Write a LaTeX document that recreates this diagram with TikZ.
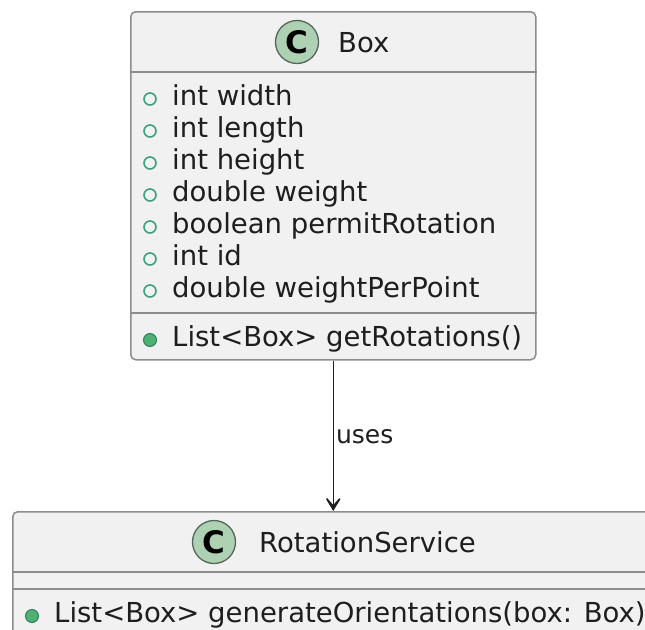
\documentclass[tikz,border=0pt]{standalone}
\usepackage{fontspec}
\setmainfont{DejaVu Sans}
\usetikzlibrary{arrows.meta, positioning, calc}
\definecolor{classfill}{HTML}{F1F1F1}
\definecolor{classline}{HTML}{8C8C8C}
\definecolor{spotfill}{HTML}{ADD1B2}
\definecolor{spotline}{HTML}{55665A}
\definecolor{fieldline}{HTML}{3FA07C}
\definecolor{methodfill}{HTML}{4FB072}
\definecolor{inktext}{HTML}{1E1E1E}

\begin{document}
\begin{tikzpicture}[
    x=1pt, y=-1pt,
    >=Stealth,
    classbox/.style={rectangle, rounded corners=5pt, draw=classline, fill=classfill, line width=1.5pt, anchor=north west, inner sep=0pt},
    divider/.style={draw=classline, line width=1.5pt},
    spot/.style={circle, draw=spotline, fill=spotfill, line width=1.3pt, minimum size=43pt, inner sep=0pt, font=\fontsize{31}{31}\selectfont\bfseries},
    txt/.style={anchor=base west, inner sep=0pt, text=inktext, font=\fontsize{#1}{33}\selectfont},
    txt/.default=27.5,
    fieldmark/.style={circle, draw=fieldline, fill=classfill, line width=1.6pt, minimum size=12pt, inner sep=0pt},
    methodmark/.style={circle, draw=fieldline!80!black, fill=methodfill, line width=1pt, minimum size=13pt, inner sep=0pt},
  ]
  \useasboundingbox[fill=white] (0,0) rectangle (645,629);

  % Box class
  \node[classbox, minimum width=405pt, minimum height=348pt] (boxcls) at (130,11) {};
  \draw[divider] ($(boxcls.north west)+(0,61)$) -- ($(boxcls.north east)+(0,61)$);
  \draw[divider] ($(boxcls.north west)+(0,302)$) -- ($(boxcls.north east)+(0,302)$);
  \node[spot] (boxspot) at (297,42) {C};
  \node[txt] (boxname) at (338,52) {Box};

  \foreach \txt [count=\i] in {int width, int length, int height, double weight,
      boolean permitRotation, int id, double weightPerPoint} {
    \node[fieldmark] (fm\i) at (150,67+32*\i) {};
    \node[txt] (f\i) at (172,73+32*\i) {\txt};
  }
  \node[methodmark] (mm1) at (150,340) {};
  \node[txt] (m1) at (172,346) {List<Box> getRotations()};

  % RotationService class
  \node[classbox, minimum width=680pt, minimum height=200pt] (rotsvc) at (12,511) {};
  \draw[divider] ($(rotsvc.north west)+(0,61)$) -- ($(rotsvc.north east)+(0,61)$);
  \draw[divider] ($(rotsvc.north west)+(0,78)$) -- ($(rotsvc.north east)+(0,78)$);
  \node[spot] (rotspot) at (214,542) {C};
  \node[txt] (rotname) at (259,552) {RotationService};
  \node[methodmark] (mm2) at (32,616) {};
  \node[txt] (m2) at (54,622) {List<Box> generateOrientations(box: Box)};

  % dependency
  \draw[-{Stealth[length=19pt, width=23pt, inset=13pt]}, line width=1.5pt, inktext]
    (boxcls.south) -- (boxcls.south |- rotsvc.north)
    node[midway, txt=25, anchor=base west, xshift=2pt, yshift=-8pt] (uses) {uses};

\end{tikzpicture}
\end{document}
